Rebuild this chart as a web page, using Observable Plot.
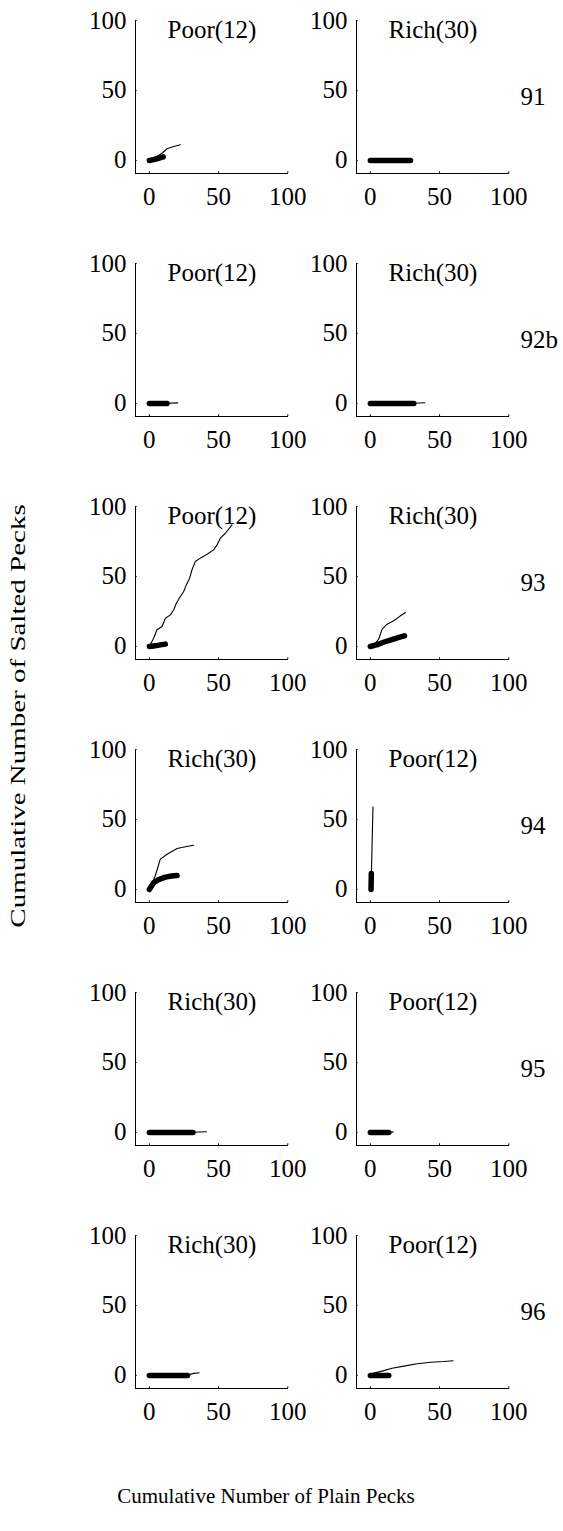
<!DOCTYPE html>
<html>
<head>
<meta charset="utf-8">
<script src="https://cdn.jsdelivr.net/npm/d3@7"></script>
<script src="https://cdn.jsdelivr.net/npm/@observablehq/plot@0.6"></script>
<style>
html, body { margin: 0; padding: 0; background: #fff; }
#wrap { position: relative; width: 563px; height: 1531px; font-family: "Liberation Serif", "Times New Roman", serif; color: #000; }
#chart { position: absolute; left: 0; top: 0; }
#chart svg, #chart svg text { font-family: "Liberation Serif", "Times New Roman", serif !important; }
#xlabel { position: absolute; left: 0; width: 532px; top: 1483px; text-align: center; font-size: 21px; line-height: 26px; white-space: nowrap; }
#ylabel { position: absolute; left: 18px; top: 716px; transform: translate(-50%, -50%) rotate(-90deg) scaleX(1.38); white-space: nowrap; font-size: 21px; line-height: 26px; }
</style>
</head>
<body>
<div id="wrap">
  <div id="chart"></div>
  <div id="xlabel">Cumulative Number of Plain Pecks</div>
  <div id="ylabel">Cumulative Number of Salted Pecks</div>
</div>
<script>
// ---- categories / labels ----
const rows = ["91", "92b", "93", "94", "95", "96"];
const leftTitles  = ["Poor(12)", "Poor(12)", "Poor(12)", "Rich(30)", "Rich(30)", "Rich(30)"];
const rightTitles = ["Rich(30)", "Rich(30)", "Rich(30)", "Poor(12)", "Poor(12)", "Poor(12)"];
const xTicks = [0, 50, 100];
const yTicks = [0, 50, 100];
const xDomain = [-10, 100.5];
const yDomain = [-9.3, 100];

// ---- series values: [plain pecks, salted pecks] ----
const thin91L  = [[0,0],[3,1.2],[6.7,3.6],[9.5,5.5],[12.8,8.4],[16.5,9.6],[22.4,11.2]];
const thick91L = [[0,0],[3,0.6],[6,1.4],[10,2.6]];
const thin91R  = [[0,0],[27,0]];
const thick91R = [[0,0],[29,0]];

const thin92L  = [[0,0],[13,0.2],[20.4,0.4]];
const thick92L = [[0,0],[12.8,0]];
const thin92R  = [[0,0],[31,0.2],[39.4,0.5]];
const thick92R = [[0,0],[31.4,0]];

const thin93L  = [[0,0],[3.1,5.9],[5.5,11.9],[9.2,14.3],[11.6,20.2],[15.2,22.6],[17.6,26.2],[19.5,30.9],[22.4,35.7],[24.8,39.3],[26.7,44.0],[29.1,48.8],[30.8,54.8],[33.2,60.7],[36.8,63.1],[41.7,65.9],[46.4,69.0],[48.9,72.6],[51.3,77.4],[54.9,80.9],[59.7,86.9]];
const thick93L = [[0,0],[3,0.4],[6,0.8],[9,1.3],[11.5,1.7]];
const thin93R  = [[0,0],[3,1.5],[6,5.2],[8.5,12.4],[12.1,15.9],[16.9,18.4],[21.7,21.9],[25.4,24.3]];
const thick93R = [[0,0],[5,1.3],[10,3.2],[15,4.8],[20,6.3],[24.6,7.6]];

const thin94L  = [[0,0],[4.3,9.8],[7.9,21.7],[12.8,25.2],[20,29.3],[26,30.5],[32,31.6]];
const thick94L = [[0,0],[3.1,4.8],[6.7,7.1],[11.6,8.8],[16,9.6],[20,10]];
const thin94R  = [[0.5,0],[0.8,12],[1.2,30],[1.9,59]];
const thick94R = [[0.5,0],[0.6,6],[0.7,11.4]];

const thin95L  = [[0,0],[31,0.2],[41.2,0.5]];
const thick95L = [[0,0],[31.5,0]];
const thin95R  = [[0,0],[13,0.2],[16.4,0.4]];
const thick95R = [[0,0],[13.3,0]];

const thin96L  = [[0,0],[28,0.3],[32,1.5],[36,2]];
const thick96L = [[0,0],[27.6,0]];
const thin96R  = [[0,0],[2.4,1.7],[8.5,3.1],[15.7,5.2],[24.2,6.7],[33.8,8.4],[43.5,9.5],[53.1,10],[59.7,10.5]];
const thick96R = [[0,0],[13.3,0]];

const panelThin  = [[thin91L, thin91R], [thin92L, thin92R], [thin93L, thin93R], [thin94L, thin94R], [thin95L, thin95R], [thin96L, thin96R]];
const panelThick = [[thick91L, thick91R], [thick92L, thick92R], [thick93L, thick93R], [thick94L, thick94R], [thick95L, thick95R], [thick96L, thick96R]];

// ---- tables built from the arrays ----
function flatten(panelSets) {
  const out = [];
  rows.forEach((row, r) => {
    [0, 1].forEach(col => {
      panelSets[r][col].forEach(([x, y]) => out.push({row, col, key: row + "-" + col, x, y}));
    });
  });
  return out;
}
const thinData = flatten(panelThin);
const thickData = flatten(panelThick);
const titleData = [];
rows.forEach((row, r) => {
  titleData.push({row, col: 0, title: leftTitles[r]});
  titleData.push({row, col: 1, title: rightTitles[r]});
});
const rowLabelData = rows.map(row => ({row, col: 1, label: row}));

const FS = 25;
const FF = "Liberation Serif, Times New Roman, serif";
const chart = Plot.plot({
  width: 563,
  height: 1531,
  marginLeft: 135,
  marginRight: 54,
  marginTop: 20,
  marginBottom: 143,
  x: {domain: xDomain, axis: null},
  y: {domain: yDomain, axis: null},
  fx: {domain: [0, 1], axis: null, paddingInner: 68 / 221, paddingOuter: 0, round: false},
  fy: {domain: rows, axis: null, paddingInner: 90 / 243, paddingOuter: 0, round: false},
  style: {fontSize: FS + "px", color: "#000", background: "#fff"},
  marks: [
    // axis lines
    Plot.ruleY([yDomain[0]], {stroke: "#000", strokeWidth: 1}),
    Plot.ruleX([xDomain[0]], {stroke: "#000", strokeWidth: 1}),
    // tiny inward ticks
    Plot.ruleX(xTicks, {x: d => d, y1: () => yDomain[0], y2: () => yDomain[0] + 1.2, stroke: "#000"}),
    Plot.ruleY(yTicks, {y: d => d, x1: () => xDomain[0], x2: () => xDomain[0] + 1.2, stroke: "#000"}),
    // tick labels
    Plot.text(xTicks, {x: d => d, text: d => String(d), frameAnchor: "bottom", lineAnchor: "top", dy: 14, fontSize: FS, fontFamily: FF, fill: "#000"}),
    Plot.text(yTicks, {y: d => d, text: d => String(d), frameAnchor: "left", textAnchor: "end", dx: -9, fontSize: FS, fontFamily: FF, fill: "#000"}),
    // data
    Plot.line(thinData, {x: "x", y: "y", z: "key", fx: "col", fy: "row", stroke: "#000", strokeWidth: 1.1, strokeLinejoin: "round", strokeLinecap: "round"}),
    Plot.line(thickData, {x: "x", y: "y", z: "key", fx: "col", fy: "row", stroke: "#000", strokeWidth: 5.5, strokeLinejoin: "round", strokeLinecap: "round"}),
    // panel titles
    Plot.text(titleData, {fx: "col", fy: "row", text: "title", frameAnchor: "top", fontSize: FS, fontFamily: FF, fill: "#000"}),
    // row labels
    Plot.text(rowLabelData, {fx: "col", fy: "row", text: "label", frameAnchor: "right", textAnchor: "start", dx: 11, fontSize: FS, fontFamily: FF, fill: "#000"})
  ]
});
document.getElementById("chart").appendChild(chart);
</script>
</body>
</html>
